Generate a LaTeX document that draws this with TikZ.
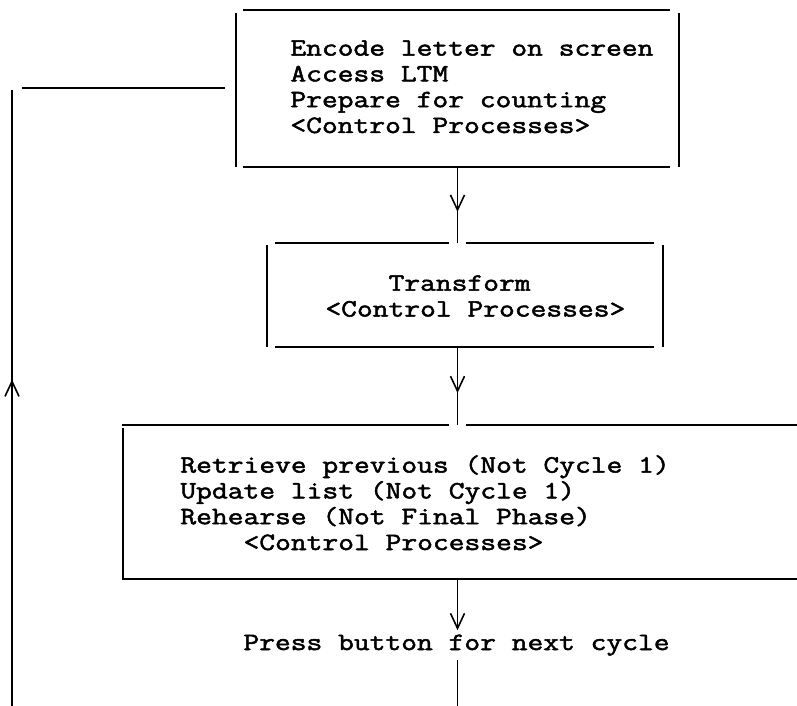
\documentclass[tikz,border=0pt]{standalone}
\usepackage{fontspec}
\newfontfamily\typer{Latin Modern Mono}[FakeStretch=1.23, FakeBold=2]
\usetikzlibrary{arrows.meta,decorations.markings}
\begin{document}
\begin{tikzpicture}[x=0.5pt,y=-0.5pt,
  typed/.style={font=\typer\fontsize{12.46pt}{12.9pt}\selectfont,
                align=left, inner sep=0pt},
  frame/.style={draw=none, inner sep=0pt, outer sep=0pt},
  rule/.style={line width=0.8pt, line cap=butt},
  tipmark/.style={postaction={decorate}, decoration={markings,
      mark=at position #1 with {\arrow{Straight Barb[length=7.5pt,width=7pt]}}}},
  endtip/.style={-{Straight Barb[length=7.5pt,width=7pt]}}]
\useasboundingbox (0,0) rectangle (797,706);

% ---- frames of the three stages
\node[frame, minimum width=221.5pt, minimum height=78.5pt] (b1) at (457.5,88.5) {};
\node[frame, minimum width=198pt,   minimum height=52pt]   (b2) at (465,295) {};
\node[frame, minimum width=337.5pt, minimum height=77pt]   (b3) at (459.5,502) {};

% ---- stage texts (anchored on the baseline of their last line)
\node[typed, anchor=base west] (t1) at (290,133)
  {Encode letter on screen\\Access LTM\\Prepare for counting\\<Control Processes>};
\node[typed, anchor=base west] (t2) at (325,316.5)
  {\phantom{XXXX}Transform\\<Control Processes>};
\node[typed, anchor=base west] (t3) at (180,550)
  {Retrieve previous (Not Cycle 1)\\Update list (Not Cycle 1)\\Rehearse (Not Final Phase)\\\phantom{XXXX}<Control Processes>};
\node[typed, anchor=base west, inner ysep=2pt] (p) at (243,650)
  {Press button for next cycle};

% ---- box 1 sides
\draw[rule] ([xshift=3.5pt]b1.north west) -- ([xshift=-4.5pt]b1.north east);
\draw[rule] ([xshift=3.5pt]b1.south west) -- ([xshift=-4.5pt]b1.south east);
\draw[rule] ([yshift=-1.5pt]b1.north west) -- (b1.south west);
\draw[rule] ([yshift=-1.5pt]b1.north east) -- (b1.south east);

% ---- box 2 sides (top rule broken where the flow line enters)
\draw[rule] ([xshift=4pt]b2.north west) -- ([xshift=-4.25pt]b2.north -| b1.south);
\draw[rule] ([xshift=4.25pt]b2.north -| b1.south) -- ([xshift=-4.5pt]b2.north east);
\draw[rule] ([xshift=4pt]b2.south west) -- ([xshift=-4.5pt]b2.south east);
\draw[rule] ([yshift=-1pt]b2.north west) -- (b2.south west);
\draw[rule] ([yshift=-1pt]b2.north east) -- (b2.south east);

% ---- box 3 sides (runs on past the right margin)
\draw[rule] (b3.north west) -- ([xshift=-4.25pt]b3.north -| b1.south);
\draw[rule] ([xshift=4.25pt]b3.north -| b1.south) -- (b3.north east);
\draw[rule] (b3.south west) -- (b3.south east);
\draw[rule] ([xshift=0.5pt,yshift=-1.5pt]b3.north west) -- ([xshift=0.5pt]b3.south west);

% ---- flow downwards
\draw[rule, tipmark=0.59] (b1.south) -- (b1.south |- b2.north);
\draw[rule, tipmark=0.59] (b2.south -| b1.south) -- (b1.south |- b3.north);
\draw[rule, endtip] (b3.south -| b1.south) -- (b1.south |- p.north);

% ---- loop back to the first stage
\coordinate (fb0) at (457.5,706);
\coordinate (fb1) at (12,706);
\coordinate (fb2) at (12,90);
\coordinate (fb3) at (22,88);
\draw[rule] (p.south -| b1.south) -- (fb0);
\draw[rule, tipmark=0.53] (fb1) -- (fb2);
\draw[rule] (fb3) -- ([xshift=-5.5pt]b1.west |- fb3);
\end{tikzpicture}
\end{document}
